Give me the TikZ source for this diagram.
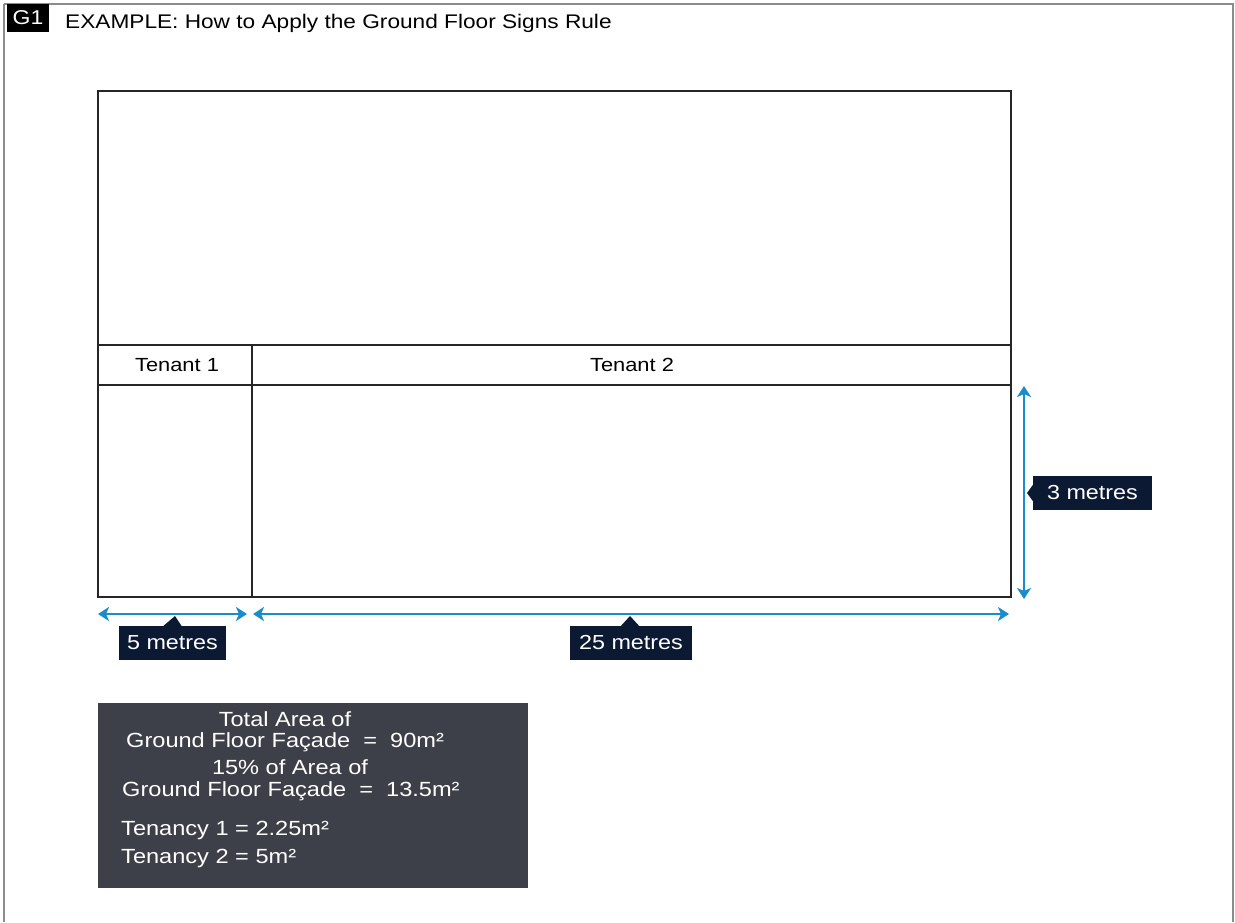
\documentclass[tikz,border=0pt]{standalone}
\usepackage{fontspec}
\setmainfont[FakeStretch=1.15]{Liberation Sans}
\usetikzlibrary{arrows.meta}
\definecolor{dimblue}{HTML}{1B8CCB}
\definecolor{tagnavy}{HTML}{0B1A32}
\definecolor{notegray}{HTML}{3E4049}
\tikzset{
  wall/.style = {draw = black!85, line width = 1.8pt},
  dimline/.style = {draw = dimblue, line width = 2.8pt, {Stealth[length=11pt,width=14pt,inset=3pt]}-{Stealth[length=11pt,width=14pt,inset=3pt]}},
  tag/.style = {fill = tagnavy, text = white, inner sep = 0pt, minimum height = 34pt, font = \fontsize{20.3}{20}\selectfont},
  notetext/.style = {text = white, inner sep = 0pt, text height = 13pt, text depth = 1pt, font = \fontsize{20.5}{20}\selectfont}
}
\begin{document}
\begin{tikzpicture}
  [x = 1pt, y = -1pt]
  \useasboundingbox (0,0) rectangle (1235,922);
  \fill[white] (0,0) rectangle (1235,922);
  \draw[black!45, line width = 1.2pt] (4,4) -- (1233,4) -- (1233,922);
  \draw[black!45, line width = 1.2pt] (4,4) -- (4,922);
  \node[fill = black, text = white, minimum width = 42pt, minimum height = 28pt, inner sep = 0pt,
        font = \fontsize{20}{20}\selectfont] (gone) at (28,18) {G1};
  \node[anchor = base west, inner sep = 0pt, font = \fontsize{19.7}{20}\selectfont] (title) at (65,28)
    {EXAMPLE: How to Apply the Ground Floor Signs Rule};
  % facade
  \draw[wall] (98,91) rectangle (1011,597);
  \draw[wall] (98,345) -- (1011,345);
  \draw[wall] (98,385) -- (1011,385);
  \draw[wall] (252,345) -- (252,597);
  \node[font = \fontsize{19}{19}\selectfont] (tenA) at (177,365) {Tenant 1};
  \node[font = \fontsize{19}{19}\selectfont] (tenB) at (632,365) {Tenant 2};
  % dimensions
  \coordinate (hA1) at (98,614);
  \coordinate (hA2) at (247,614);
  \coordinate (hB1) at (253,614);
  \coordinate (hB2) at (1009,614);
  \coordinate (vC1) at (1024,386);
  \coordinate (vC2) at (1024,599);
  \draw[dimline] (hA1) -- (hA2);
  \draw[dimline] (hB1) -- (hB2);
  \draw[dimline] (vC1) -- (vC2);
  \node[tag, minimum width = 107pt] (tagA) at (172.5,643) {5 metres};
  \node[tag, minimum width = 122pt] (tagB) at (631,643) {25 metres};
  \node[tag, minimum width = 119pt] (tagC) at (1092.5,493) {3 metres};
  \fill[tagnavy] ([xshift = -9pt]tagA.north) -- (175,616) -- ([xshift = 9pt]tagA.north) -- cycle;
  \fill[tagnavy] ([xshift = -10pt]tagB.north) -- (630,616) -- ([xshift = 8pt]tagB.north) -- cycle;
  \fill[tagnavy] ([yshift = 8pt]tagC.west) -- (1027,493) -- ([yshift = -8pt]tagC.west) -- cycle;
  % area note
  \node[fill = notegray, minimum width = 430pt, minimum height = 185pt, inner sep = 0pt,
        anchor = north west] (note) at (98,703) {};
  \node[notetext, anchor = base] (nA) at (285,726) {Total Area of};
  \node[notetext, anchor = base west] (nB) at (126,747) {Ground Floor Façade \ = \ 90m²};
  \node[notetext, anchor = base] (nC) at (290,774) {15\% of Area of};
  \node[notetext, anchor = base west] (nD) at (122,796) {Ground Floor Façade \ = \ 13.5m²};
  \node[notetext, anchor = base west] (nE) at (121,835) {Tenancy 1 = 2.25m²};
  \node[notetext, anchor = base west] (nF) at (121,863) {Tenancy 2 = 5m²};
\end{tikzpicture}
\end{document}
